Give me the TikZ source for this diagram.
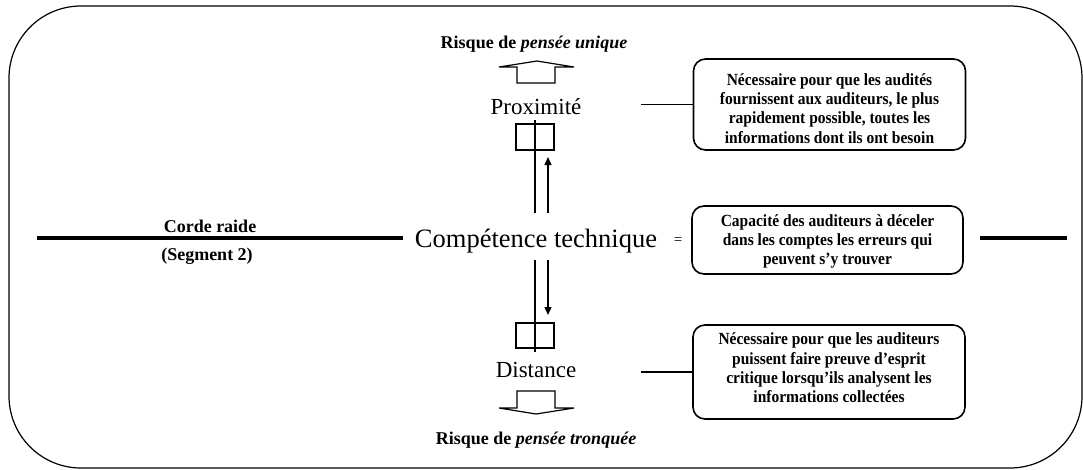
\documentclass[tikz,border=0pt]{standalone}
\usepackage{fontspec}
\setmainfont{Liberation Serif}
\usetikzlibrary{arrows.meta}
\newcommand\boxlines[1]{\scalebox{1}[1.1]{\begin{tabular}{@{}c@{}}#1\end{tabular}}}
\begin{document}
\begin{tikzpicture}[x=1pt,y=-1pt,
  lbl/.style={font=\bfseries\fontsize{18}{21}\selectfont, anchor=base, inner sep=0pt},
  big/.style={font=\fontsize{23}{27}\selectfont, anchor=base, inner sep=0pt},
  huge/.style={font=\fontsize{26.5}{30}\selectfont, anchor=base, inner sep=0pt},
  rbox/.style={draw, line width=1.6pt, rounded corners=12pt, inner sep=0pt},
  btxt/.style={font=\bfseries\fontsize{15.5}{17.5}\selectfont, inner sep=0pt},
  thinline/.style={line width=1.4pt},
  rope/.style={line width=3.5pt},
  tipped/.style={line width=1.4pt, -{Triangle[length=8pt,width=7pt]}},
  hollow/.style={line width=1.2pt, line join=miter}
]
\useasboundingbox (0,0) rectangle (1083,469);
% outer frame
\draw[line width=1.2pt, rounded corners=72pt] (9,6) rectangle (1082,468);

% tightrope
\coordinate (r1) at (37,238);
\coordinate (r2) at (403,238);
\coordinate (r3) at (980,238);
\coordinate (r4) at (1067,238);
\draw[rope] (r1) -- (r2);
\draw[rope] (r3) -- (r4);
\node[lbl] (corde) at (210,232) {Corde raide};
\node[lbl] (seg) at (207,260) {(Segment 2)};

% central texts
\node[huge] (comp) at (536,247) {Compétence technique};
\node[big] (prox) at (536,114) {Proximité};
\node[big] (dist) at (536,377) {Distance};
\node[font=\fontsize{15}{17}\selectfont, inner sep=0pt] (eq) at (678,241) {=};
\node[lbl] (r-top) at (534,48) {Risque de \textit{pensée unique}};
\node[lbl] (r-bot) at (536,444) {Risque de \textit{pensée tronquée}};

% hollow arrows
\draw[hollow] (517,83) -- (517,67) -- (499,67) -- (537,61) -- (574,67) -- (555,67) -- (555,83) -- cycle;
\draw[hollow] (517,391) -- (517,408) -- (499,408) -- (536,414) -- (574,408) -- (555,408) -- (555,391) -- cycle;

% small squares
\node[draw, line width=1.2pt, minimum width=38pt, minimum height=26pt, inner sep=0pt] (sq1) at (535,137) {};
\node[draw, line width=1.2pt, minimum width=38pt, minimum height=25pt, inner sep=0pt] (sq2) at (535,335.5) {};

% vertical lines
\coordinate (v1) at (535,120);
\coordinate (v2) at (535,213);
\coordinate (v3) at (535,260);
\coordinate (v4) at (535,352);
\coordinate (a1) at (548,213);
\coordinate (a2) at (548,157);
\coordinate (a3) at (548,260);
\coordinate (a4) at (548,315);
\draw[thinline] (v1) -- (v2);
\draw[thinline] (v3) -- (v4);
\draw[tipped] (a1) -- (a2);
\draw[tipped] (a3) -- (a4);

% boxes
\node[rbox, minimum width=272pt, minimum height=91pt] (b1) at (829.5,104.5) {};
\node[btxt] (t1) at (829.5,110.5) {\boxlines{Nécessaire pour que les audités\\fournissent aux auditeurs, le plus\\rapidement possible, toutes les\\informations dont ils ont besoin}};
\node[rbox, minimum width=271pt, minimum height=68pt] (b2) at (827.5,240) {};
\node[btxt] (t2) at (827.5,241.5) {\boxlines{Capacité des auditeurs à déceler\\dans les comptes les erreurs qui\\peuvent s’y trouver}};
\node[rbox, minimum width=272pt, minimum height=94pt] (b3) at (829,372) {};
\node[btxt] (t3) at (829,370) {\boxlines{Nécessaire pour que les auditeurs\\puissent faire preuve d’esprit\\critique lorsqu’ils analysent les\\informations collectées}};

% connectors
\coordinate (c1) at (641,104.5);
\coordinate (c3) at (641,372);
\draw[thinline] (c1) -- (b1.west);
\draw[thinline] (c3) -- (b3.west);
\end{tikzpicture}
\end{document}
